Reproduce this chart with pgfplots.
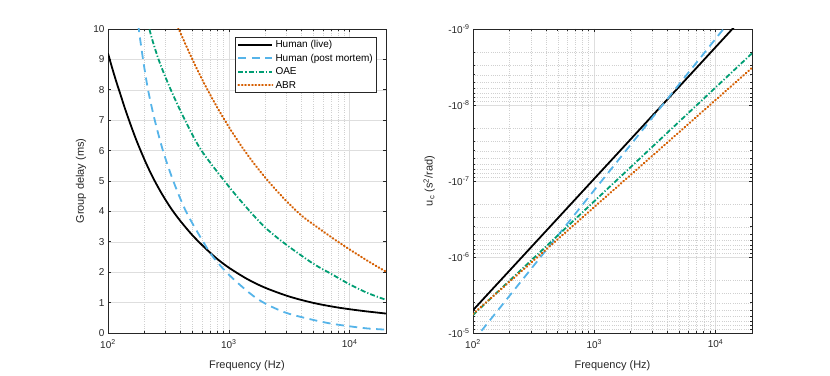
\documentclass[border=0pt]{standalone}
\usepackage{fontspec}
\setmainfont{Liberation Sans}
\usepackage{pgfplots}
\pgfplotsset{compat=1.18}

\definecolor{axgray}{RGB}{38,38,38}
\definecolor{gridmaj}{RGB}{222,222,222}
\definecolor{gridmin}{RGB}{208,208,208}
\definecolor{mblue}{RGB}{86,180,233}
\definecolor{mgreen}{RGB}{0,158,115}
\definecolor{morange}{RGB}{213,94,0}

\tikzset{
  lineLive/.style={black, line width=1.8pt},
  linePost/.style={mblue, line width=1.8pt, dash pattern=on 8pt off 5.5pt},
  lineOAE/.style={mgreen, line width=1.8pt, dash pattern=on 5pt off 2pt on 1.2pt off 2pt},
  lineABR/.style={morange, line width=2.1pt, line cap=round, dash pattern=on 0.7pt off 2.7pt},
}

\pgfplotsset{
  every axis/.append style={
    scale only axis, height=304pt,
    axis line style={axgray, line width=0.6pt},
    tick style={axgray, line width=0.6pt},
    major tick length=3.5pt, minor tick length=2pt,
    ticklabel style={font=\fontsize{10}{12}\selectfont, text=axgray},
    xticklabel style={yshift=-3pt},
    label style={font=\fontsize{11}{13}\selectfont, text=axgray},
    major grid style={gridmaj, line width=0.5pt},
    minor grid style={gridmin, dash pattern=on 0.6pt off 1.6pt, line width=0.5pt},
    xlabel style={at={(axis description cs:0.5,-0.109)}, anchor=center},
  },
}

\begin{document}
\begin{tikzpicture}
\path[use as bounding box] (0pt,0pt) rectangle (830pt,375pt);

% group delay
\begin{axis}[
  at={(108pt,42pt)}, anchor=south west, width=278pt,
  xmode=log, xmin=100, xmax=20000,
  xtick={100,1000,10000},
  xticklabels={10\textsuperscript{2},10\textsuperscript{3},10\textsuperscript{4}},
  minor xtick={200,300,400,500,600,700,800,900,2000,3000,4000,5000,6000,7000,8000,9000},
  xmajorgrids, xminorgrids,
  xlabel={Frequency (Hz)},
  ymin=0, ymax=10, ytick={0,1,...,10},
  /pgf/number format/assume math mode=true,
  ymajorgrids,
  ylabel={Group delay (ms)},
  ylabel style={at={(axis description cs:-0.097,0.5)}, anchor=center},
  legend style={at={(axis description cs:0.9676,0.9737)}, anchor=north east,
    draw=axgray, line width=0.5pt, font=\fontsize{10}{12}\selectfont,
    inner xsep=2pt, inner ysep=1pt, row sep=1pt, cells={anchor=west}},
  legend image code/.code={\draw[#1] (0pt,0pt) -- (34pt,0pt);},
]
\addplot[lineLive, smooth] coordinates {
  (100,9.20) (108.4,8.71) (117.5,8.25) (127.4,7.82) (138,7.39) (154.9,6.82)
  (173.8,6.29) (204.2,5.63) (237.1,5.09) (281.8,4.55) (335,4.08) (398.1,3.68)
  (501.2,3.21) (631,2.81) (794.3,2.45) (1000,2.15) (1413,1.78) (1995,1.49)
  (3162,1.20) (5012,0.99) (7943,0.84) (12589,0.73) (20000,0.64)
};
\addlegendentry{Human (live)}
\addplot[linePost, smooth] coordinates {
  (172,10.6) (179.7,10.0) (195,9.0) (214.5,8.0) (243.8,7.0) (285,6.0)
  (347,5.0) (442,4.0) (603,3.05) (741,2.50) (1000,1.92) (1500,1.30)
  (2000,0.97) (3000,0.66) (5000,0.43) (7000,0.31) (10000,0.22) (14000,0.15)
  (20000,0.11)
};
\addlegendentry{Human (post mortem)}
\addplot[lineOAE, smooth] coordinates {
  (210,10.65) (220,10.0) (262,9.0) (331,8.0) (434,7.0) (594,6.0)
  (1000,4.82) (1400,4.13) (2000,3.47) (3000,2.90) (5000,2.28) (7000,1.95)
  (10000,1.60) (14000,1.32) (20000,1.09)
};
\addlegendentry{OAE}
\addplot[lineABR, smooth] coordinates {
  (371.5,10.15) (385.5,10.0) (446.7,9.42) (524.8,8.82) (631,8.18) (794.3,7.45)
  (1000,6.78) (1259,6.17) (1585,5.62) (1995,5.12) (2818,4.45) (3981,3.87)
  (5623,3.43) (7943,3.01) (11220,2.62) (15849,2.25) (20000,2.02)
};
\addlegendentry{ABR}
\end{axis}

% u_c, magnitudes on a reversed log axis
\begin{axis}[
  at={(473pt,42pt)}, anchor=south west, width=279pt,
  xmode=log, xmin=100, xmax=20000,
  xtick={100,1000,10000},
  xticklabels={10\textsuperscript{2},10\textsuperscript{3},10\textsuperscript{4}},
  minor xtick={200,300,400,500,600,700,800,900,2000,3000,4000,5000,6000,7000,8000,9000},
  xmajorgrids, xminorgrids,
  xlabel={Frequency (Hz)},
  ymode=log, y dir=reverse, ymin=1e-9, ymax=1e-5,
  ytick={1e-9,1e-8,1e-7,1e-6,1e-5},
  yticklabels={-10\textsuperscript{-9},-10\textsuperscript{-8},-10\textsuperscript{-7},-10\textsuperscript{-6},-10\textsuperscript{-5}},
  minor ytick={2e-9,3e-9,4e-9,5e-9,6e-9,7e-9,8e-9,9e-9,
    2e-8,3e-8,4e-8,5e-8,6e-8,7e-8,8e-8,9e-8,
    2e-7,3e-7,4e-7,5e-7,6e-7,7e-7,8e-7,9e-7,
    2e-6,3e-6,4e-6,5e-6,6e-6,7e-6,8e-6,9e-6},
  ymajorgrids, yminorgrids,
  ylabel={u\textsubscript{c} (s\textsuperscript{2}/rad)},
  ylabel style={at={(axis description cs:-0.157,0.5)}, anchor=center},
]
\addplot[lineLive] coordinates {(100,5.01e-6) (20000,5.24e-10)};
\addplot[linePost] coordinates {(100,1.288e-5) (20000,3.40e-10)};
\addplot[lineOAE] coordinates {(100,5.79e-6) (20000,2.09e-9)};
\addplot[lineABR] coordinates {(100,5.62e-6) (20000,3.24e-9)};
\end{axis}
\end{tikzpicture}
\end{document}
